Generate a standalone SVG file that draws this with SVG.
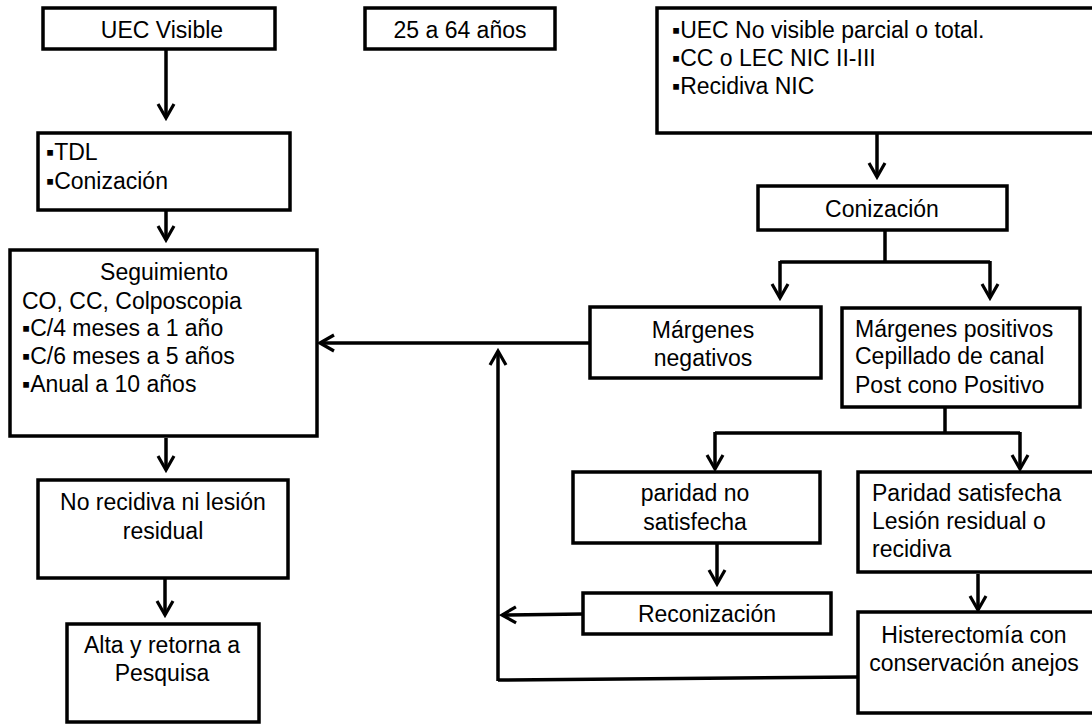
<svg xmlns="http://www.w3.org/2000/svg" width="1092" height="725" viewBox="0 0 1092 725">
<defs>
<marker id="ah" viewBox="0 0 20 20" refX="17" refY="10" markerWidth="20" markerHeight="20" markerUnits="userSpaceOnUse" orient="auto">
<path d="M3,2 L17,10 L3,18" fill="none" stroke="#000" stroke-width="3.2" stroke-linejoin="miter"/>
</marker>
<style>
rect{fill:#fff;stroke:#000;stroke-width:3.5}
text{font-family:"Liberation Sans",Arial,sans-serif;font-size:23px;fill:#000}
.c{text-anchor:middle}
.ln{fill:none;stroke:#000;stroke-width:3.5}
.ar{fill:none;stroke:#000;stroke-width:3.5;marker-end:url(#ah)}
</style>
</defs>
<rect x="0" y="0" width="1092" height="725" style="fill:#fff;stroke:none"/>
<g id="connectors">
<path class="ar" d="M166,50 V118"/>
<path class="ar" d="M166,211 V240"/>
<path class="ar" d="M166,438 V470"/>
<path class="ar" d="M165,579 V615"/>
<path class="ar" d="M877,134 V177"/>
<path class="ln" d="M885,231 V262"/>
<path class="ln" d="M780,262 H990"/>
<path class="ar" d="M780,261 V298"/>
<path class="ar" d="M990,261 V298"/>
<path class="ar" d="M590,343 H320"/>
<path class="ln" d="M858,677 L498,680"/>
<path class="ar" d="M498,681 V351"/>
<path class="ar" d="M583,614 L502,615"/>
<path class="ln" d="M945,406 V433"/>
<path class="ln" d="M715,433 H1020"/>
<path class="ar" d="M715,432 V469"/>
<path class="ar" d="M1020,432 V469"/>
<path class="ar" d="M717,544 V584"/>
<path class="ar" d="M978,574 V610"/>
</g>
<g id="uec-visible"><rect x="43" y="8" width="232" height="41"/><text class="c" x="162" y="38">UEC Visible</text></g>
<g id="edad"><rect x="365" y="8" width="190" height="41"/><text class="c" x="460" y="38">25 a 64 años</text></g>
<g id="uec-no-visible"><rect x="657" y="8" width="445" height="125"/>
<text x="672" y="38">▪UEC No visible parcial o total.</text>
<text x="672" y="66">▪CC o LEC NIC II-III</text>
<text x="672" y="94">▪Recidiva NIC</text></g>
<g id="tdl"><rect x="38" y="133" width="252" height="77"/>
<text x="46" y="160">▪TDL</text>
<text x="46" y="189">▪Conización</text></g>
<g id="seguimiento"><rect x="10" y="250" width="307" height="186"/>
<text class="c" x="164" y="280">Seguimiento</text>
<text x="22" y="309">CO, CC, Colposcopia</text>
<text x="22" y="336">▪C/4 meses a 1 año</text>
<text x="22" y="364">▪C/6 meses a 5 años</text>
<text x="22" y="392">▪Anual a 10 años</text></g>
<g id="no-recidiva"><rect x="38" y="480" width="250" height="98"/>
<text class="c" x="163" y="510">No recidiva ni lesión</text>
<text class="c" x="163" y="539">residual</text></g>
<g id="alta"><rect x="67" y="624" width="192" height="98"/>
<text class="c" x="162" y="653">Alta y retorna a</text>
<text class="c" x="162" y="681">Pesquisa</text></g>
<g id="conizacion"><rect x="758" y="186" width="249" height="44"/><text class="c" x="882" y="217">Conización</text></g>
<g id="margenes-negativos"><rect x="590" y="307" width="231" height="71"/>
<text class="c" x="703" y="338">Márgenes</text>
<text class="c" x="703" y="366">negativos</text></g>
<g id="margenes-positivos"><rect x="842" y="308" width="238" height="99"/>
<text x="855" y="337">Márgenes positivos</text>
<text x="855" y="364">Cepillado de canal</text>
<text x="855" y="393">Post cono Positivo</text></g>
<g id="paridad-no"><rect x="573" y="472" width="247" height="71"/>
<text class="c" x="695" y="501">paridad no</text>
<text class="c" x="695" y="530">satisfecha</text></g>
<g id="paridad-si"><rect x="858" y="472" width="244" height="100"/>
<text x="872" y="501">Paridad satisfecha</text>
<text x="872" y="529">Lesión residual o</text>
<text x="872" y="557">recidiva</text></g>
<g id="reconizacion"><rect x="583" y="593" width="248" height="41"/><text class="c" x="707" y="622">Reconización</text></g>
<g id="histerectomia"><rect x="858" y="612" width="244" height="101"/>
<text class="c" x="974" y="643">Histerectomía con</text>
<text class="c" x="974" y="671">conservación anejos</text></g>
</svg>
